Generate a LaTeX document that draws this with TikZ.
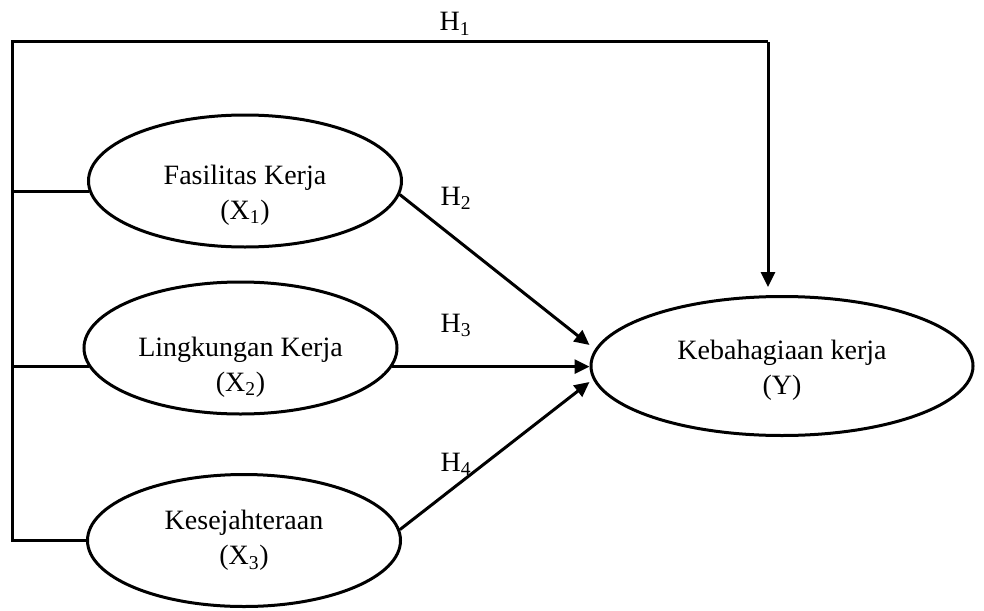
\documentclass[tikz,border=0pt]{standalone}
\usepackage{fontspec}
\setmainfont{Liberation Serif}
\usetikzlibrary{
  arrows.meta,
  positioning,
  shapes.geometric,
}
\tikzset{
  >={Triangle[length=15pt,width=14pt]},
  var/.style={draw, ellipse, line width=3pt, inner sep=0pt,
    minimum width=313pt, minimum height=132pt},
  txt/.style={align=center, font=\fontsize{28}{35}\selectfont},
  line/.style={line width=3pt},
}

\begin{document}
\begin{tikzpicture}[x=1pt,y=-1pt]
      \useasboundingbox (0,0) rectangle (984,610);
      % variables
      \node[var, label={[txt,yshift=-14pt]center:Fasilitas Kerja\\(X\textsubscript{1})}] (x1) at (245,181) {};
      \node[var, label={[txt,yshift=-19pt]center:Lingkungan Kerja\\(X\textsubscript{2})}] (x2) at (240.5,348) {};
      \node[var, label={[txt]center:Kesejahteraan\\(X\textsubscript{3})}] (x3) at (244,540.5) {};
      \node[var, minimum width=382pt, minimum height=139pt,
        label={[txt,yshift=-4pt]center:Kebahagiaan kerja\\(Y)}] (yy) at (782,366) {};
      % H1 path
      \coordinate (tl) at (12,42);
      \coordinate (tr) at (768,42);
      \draw[line] (x3.west) -- (x3.west -| tl) -- (tl) -- (tr);
      \draw[line,->,shorten >=8pt] (tr) -- (tr |- yy.north);
      \draw[line] (x1.184) -- (x1.184 -| tl);
      \draw[line] (x2.187) -- (x2.187 -| tl);
      % H2 - H4
      \draw[line,->] (x1.-5) -- ([yshift=21pt]yy.west);
      \draw[line,->] (x2.-7) -- (x2.-7 -| yy.west);
      \draw[line,->] (x3.4) -- ([yshift=-16pt]yy.west);
      \node[txt, anchor=base] (h1) at (455,31) {H\textsubscript{1}};
      \foreach \i/\y in {2/205,3/332,4/471}
      {
        \node[txt, anchor=base] (h\i) at (456,\y) {H\textsubscript{\i}};
      }
    \end{tikzpicture}
\end{document}
